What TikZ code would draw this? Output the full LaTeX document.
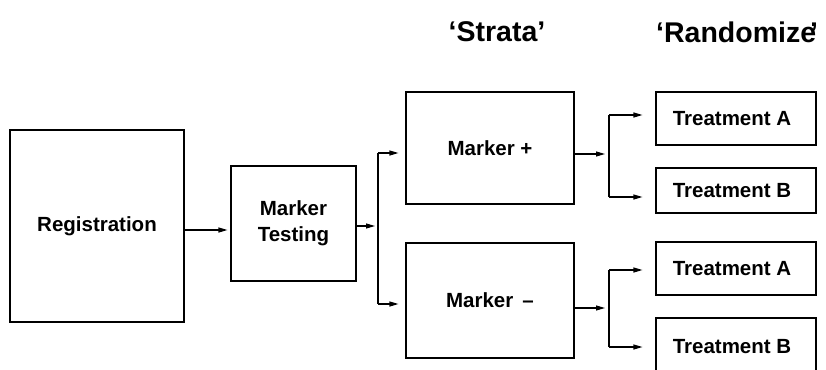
\documentclass[tikz,border=0pt]{standalone}
\usepackage{fontspec}
\setmainfont{Liberation Sans}
\usetikzlibrary{arrows.meta}
\begin{document}
\begin{tikzpicture}[x=1pt,y=-1pt,
  box/.style={draw,line width=1.1pt,rectangle,inner sep=0pt,
    font=\bfseries\fontsize{20.5}{26}\selectfont,align=center},
  arr/.style={line width=1.1pt,-{Triangle[length=9pt,width=5pt]}},
  bar/.style={line width=1.1pt},
  heading/.style={inner sep=0pt,font=\bfseries\fontsize{28.5}{32}\selectfont}]
\useasboundingbox (0,0) rectangle (826,369);

% headings
\node[heading] (strata) at (497,32) {‘Strata’};
\node[heading,anchor=west] (rand) at (656,32) {‘Randomize\kern-6pt’};

% boxes
\node[box,minimum width=174pt,minimum height=192pt] (reg) at (97,226) {Registration};
\node[box,minimum width=125pt,minimum height=115pt] (mt) at (293.5,223.5) {\rule{0pt}{6pt}Marker\\Testing};
\node[box,minimum width=168pt,minimum height=112pt] (mp) at (490,148) {Marker +};
\node[box,minimum width=168pt,minimum height=115pt] (mm) at (490,300.5) {Marker \,–};
\node[box,minimum width=160pt,minimum height=53pt] (ta1) at (736,118.5) {Treatment A\kern8pt};
\node[box,minimum width=160pt,minimum height=45pt] (tb1) at (736,190.5) {Treatment B\kern8pt};
\node[box,minimum width=160pt,minimum height=53pt] (ta2) at (736,268.5) {Treatment A\kern8pt};
\node[box,minimum width=160pt,minimum height=58pt] (tb2) at (736,347) {Treatment B\kern8pt};

% split points
\coordinate (s1) at (378,226);
\coordinate (s1a) at (378,153);
\coordinate (s1b) at (378,304);
\coordinate (s2) at (609,154);
\coordinate (s2a) at (609,115);
\coordinate (s2b) at (609,197);
\coordinate (s3) at (609,308);
\coordinate (s3a) at (609,270);
\coordinate (s3b) at (609,347);

% registration to marker testing
\draw[arr,shorten >=3pt] ([yshift=-4pt]reg.east) -- ([yshift=-4pt]reg.east -| mt.west);

% marker testing to strata
\draw[arr,shorten >=3pt] (mt.east |- s1) -- (s1);
\draw[bar] (s1a) -- (s1b);
\draw[arr,shorten >=7pt] (s1a) -- (s1a -| mp.west);
\draw[arr,shorten >=7pt] (s1b) -- (s1b -| mm.west);

% marker + to randomization
\draw[arr,shorten >=4pt] (mp.east |- s2) -- (s2);
\draw[bar] (s2a) -- (s2b);
\draw[arr,shorten >=13pt] (s2a) -- (s2a -| ta1.west);
\draw[arr,shorten >=13pt] (s2b) -- (s2b -| tb1.west);

% marker - to randomization
\draw[arr,shorten >=4pt] (mm.east |- s3) -- (s3);
\draw[bar] (s3a) -- (s3b);
\draw[arr,shorten >=13pt] (s3a) -- (s3a -| ta2.west);
\draw[arr,shorten >=13pt] (s3b) -- (s3b -| tb2.west);
\end{tikzpicture}
\end{document}
